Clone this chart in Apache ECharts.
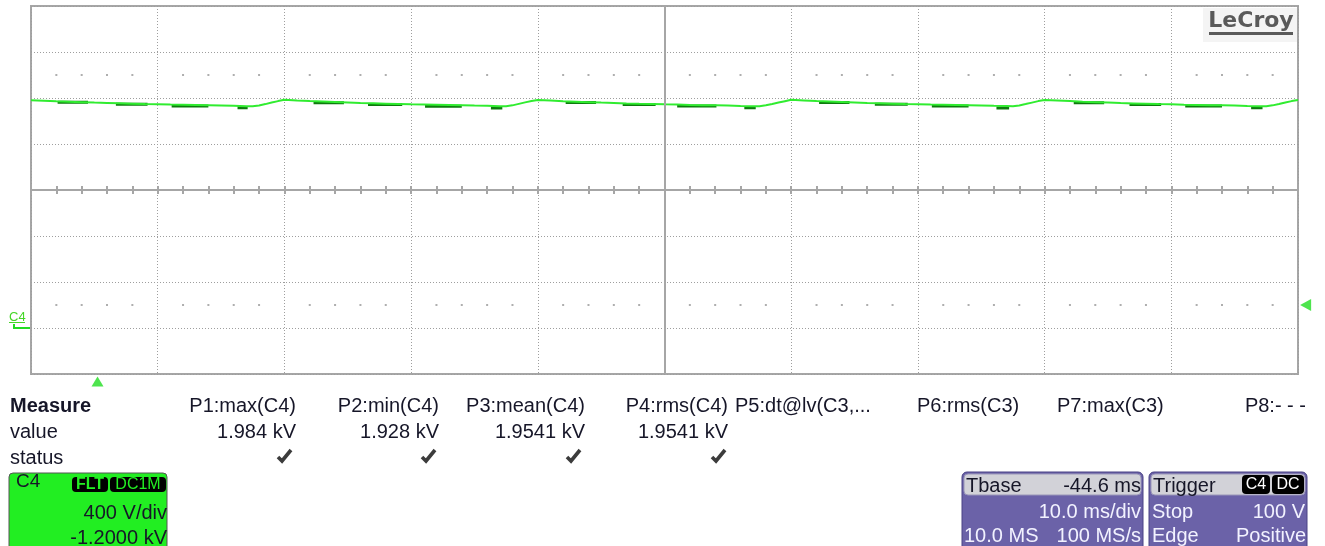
<!DOCTYPE html>
<html><head><meta charset="utf-8">
<script src="https://cdn.jsdelivr.net/npm/echarts@6/dist/echarts.min.js"></script>
<style>html,body{margin:0;padding:0;background:#fff}#c{width:1325px;height:546px}</style>
</head><body><div id="c"></div>
<script>
// ---- data (C4, 400 V/div, 10 ms/div) ----
const timeMs = [
  0,1,2,3,4,5,6,7,8,9,10,11,12,13,14,15,16,17,17.5,18,18.5,19,19.5,
  20,21,22,23,24,25,26,27,28,29,30,31,32,33,34,35,36,37,37.5,38,38.5,39,39.5,
  40,41,42,43,44,45,46,47,48,49,50,51,52,53,54,55,56,57,57.5,58,58.5,59,59.5,
  60,61,62,63,64,65,66,67,68,69,70,71,72,73,74,75,76,77,77.5,78,78.5,79,79.5,
  80,81,82,83,84,85,86,87,88,89,90,91,92,93,94,95,96,97,97.5,98,98.5,99,99.5,
  100
];
const voltsC4 = [
  1980,1977,1972,1968,1964,1960,1957,1954,1951,1948,1946,1943,1941,1939,1937,1935,1932,1929,1928,1935,1947,1961,1973,
  1984,1978,1973,1969,1965,1961,1957,1954,1951,1948,1945,1943,1941,1939,1937,1934,1932,1929,1928,1936,1949,1962,1974,
  1983,1978,1972,1968,1964,1960,1957,1953,1950,1948,1945,1943,1940,1938,1936,1934,1931,1929,1929,1937,1948,1960,1972,
  1984,1979,1973,1969,1965,1961,1957,1954,1951,1948,1946,1943,1941,1939,1937,1935,1932,1930,1928,1935,1947,1960,1973,
  1983,1978,1973,1968,1964,1960,1956,1953,1950,1947,1945,1942,1940,1938,1936,1934,1931,1929,1928,1936,1948,1961,1973,
  1982
];
// darker persistence segments of the trace
const darkStartMs = [2.1,6.7,11.1,16.3, 22.3,26.6,31.1,36.3, 42.2,46.7,51.0,56.3, 62.2,66.6,71.1,76.2, 82.3,86.7,91.1,96.3];
const darkEndMs   = [4.5,9.2,14.0,17.1, 24.7,29.3,34.0,37.2, 44.6,49.3,54.1,57.2, 64.6,69.2,74.0,77.2, 84.7,89.2,94.0,97.2];
const darkVolts   = [1962,1945,1931,1915, 1958,1943,1929,1914, 1961,1944,1930,1915, 1960,1945,1931,1914, 1959,1944,1930,1915];

// graticule
const xMin = 0, xMax = 100, xStep = 10;      // ms
const yMin = -400, yMax = 2800, yStep = 400; // V
const centerTime = 50;
const dotRowVolts = [2200, 200];
const trigTimeMs = 5.25;
const trigLevelV = 200;

// measurement table
const measHeaders = ['P1:max(C4)','P2:min(C4)','P3:mean(C4)','P4:rms(C4)','P5:dt@lv(C3,...','P6:rms(C3)','P7:max(C3)','P8:- - -'];
const measValues  = ['1.984 kV','1.928 kV','1.9541 kV','1.9541 kV','','','',''];
const measStatus  = [true,true,true,true,false,false,false,false];

const trace = timeMs.map((t,i)=>[t, voltsC4[i]]);
const dark = [];
darkStartMs.forEach((s,i)=>{ dark.push([s,darkVolts[i]]); dark.push([darkEndMs[i],darkVolts[i]]); dark.push([darkEndMs[i],'-']); });
const dots = [];
dotRowVolts.forEach(v=>{ for(let t=xMin+2;t<xMax;t+=2){ if(t%10!==0) dots.push([t,v]); } });

const F = '"Liberation Sans", Arial, sans-serif';
const TXT = '#161628';
function txt(x,y,s,opt){
  opt = opt||{};
  return {type:'text', x:x, y:y, z:10, silent:true, style:{text:s, fill:opt.fill||TXT, font:(opt.weight||'normal')+' '+(opt.size||20)+'px '+(opt.family||F), textAlign:opt.align||'left', textVerticalAlign:'middle', verticalAlign:'middle'}};
}
function rect(x,y,w,h,fill,opt){
  opt=opt||{};
  return {type:'rect', z:9, silent:true, shape:{x:x,y:y,width:w,height:h,r:opt.r||0}, style:{fill:fill, stroke:opt.stroke||null, lineWidth:opt.lw||0}};
}
function check(cx,cy){
  return {type:'polyline', z:10, silent:true, shape:{points:[[cx-6,cy+1],[cx-2,cy+5],[cx+7,cy-6]]},
    style:{stroke:'#3c3c3c', lineWidth:3.6, fill:null, lineJoin:'miter', lineCap:'butt'}};
}

const measRight = [296,439,585,728,null,null,null,1306];
const measLeft  = [null,null,null,null,735,917,1057,null];
const checkX = [284,428,573,718];

const g = [];
// measure table
g.push(txt(10,406,'Measure',{weight:'bold'}));
g.push(txt(10,432,'value'));
g.push(txt(10,458,'status'));
measHeaders.forEach((h,i)=>{
  if(measRight[i]!==null) g.push(txt(measRight[i],406,h,{align:'right'}));
  else g.push(txt(measLeft[i],406,h));
  if(measValues[i]) g.push(txt(measRight[i],432,measValues[i],{align:'right'}));
  if(measStatus[i]) g.push(check(checkX[i],456));
});
// C4 channel box
g.push(rect(9,473,158,80,'#22ee22',{r:4,stroke:'#555',lw:1}));
g.push(txt(16,482,'C4',{size:19}));
g.push(rect(72,477,36,15,'#000',{r:4}));
g.push(rect(110,477,56,15,'#000',{r:4}));
g.push(txt(90,485,'FLT',{size:16,weight:'bold',fill:'#22ee22',align:'center'}));
g.push(txt(138,485,'DC1M',{size:16,fill:'#22ee22',align:'center'}));
g.push(txt(167,513,'400 V/div',{align:'right'}));
g.push(txt(167,538,'-1.2000 kV',{align:'right'}));
// Tbase box
g.push(rect(962,472,181,80,'#6b62a8',{r:5,stroke:'#4a4384',lw:1}));
g.push(rect(964,474,177,21,'#d2d2d8',{r:4,stroke:'#9a96b8',lw:1}));
g.push(txt(966,486,'Tbase'));
g.push(txt(1141,486,'-44.6 ms',{align:'right'}));
g.push(txt(1141,512,'10.0 ms/div',{align:'right',fill:'#f2f2ff'}));
g.push(txt(964,536,'10.0 MS',{fill:'#f2f2ff'}));
g.push(txt(1141,536,'100 MS/s',{align:'right',fill:'#f2f2ff'}));
// Trigger box
g.push(rect(1149,472,158,80,'#6b62a8',{r:5,stroke:'#4a4384',lw:1}));
g.push(rect(1151,474,154,21,'#d2d2d8',{r:4,stroke:'#9a96b8',lw:1}));
g.push(txt(1153,486,'Trigger'));
g.push(rect(1242,475,28,19,'#000',{r:4}));
g.push(rect(1272,475,32,19,'#000',{r:4}));
g.push(txt(1256,485,'C4',{size:16,fill:'#fff',align:'center'}));
g.push(txt(1288,485,'DC',{size:16,fill:'#fff',align:'center'}));
g.push(txt(1152,512,'Stop',{fill:'#f2f2ff'}));
g.push(txt(1305,512,'100 V',{align:'right',fill:'#f2f2ff'}));
g.push(txt(1152,536,'Edge',{fill:'#f2f2ff'}));
g.push(txt(1306,536,'Positive',{align:'right',fill:'#f2f2ff'}));
// LeCroy logo
g.push(rect(1203,8,94,34,'#f4f4f4'));
g.push(txt(1251,21,'LeCroy',{size:22,weight:'bold',fill:'#5a5a5a',align:'center',family:'"DejaVu Sans", sans-serif'}));
g.push(rect(1209,32,84,3,'#5a5a5a'));
// C4 ground marker
g.push(txt(9,317,'C4',{size:13,fill:'#44d626'}));
g.push(rect(9,322,16,1,'#44d626'));
g.push(rect(13,327,17,2,'#22dd22'));
g.push(rect(13,324,2,5,'#22dd22'));

const gridLine = {color:'#9e9e9e', type:[1,2], width:1};
const center = {color:'#a6a6a6', width:2};

const option = {
  animation:false,
  backgroundColor:'#fff',
  grid:{left:31, top:6, width:1267, height:368, show:true, borderColor:'#a6a6a6', borderWidth:2, backgroundColor:'transparent'},
  xAxis:[
    {type:'value', min:xMin, max:xMax, interval:xStep, axisLine:{show:false}, axisTick:{show:false}, axisLabel:{show:false}, splitLine:{show:true, lineStyle:gridLine}},
    {type:'value', min:xMin, max:xMax, interval:xStep, position:'bottom', z:3,
      axisLine:{show:true, onZero:true, onZeroAxisIndex:1, lineStyle:center},
      axisTick:{show:true, inside:true, length:4, lineStyle:center},
      minorTick:{show:true, splitNumber:5, length:4, lineStyle:center},
      axisLabel:{show:false}, splitLine:{show:false}},
    {type:'value', min:xMin, max:xMax, interval:xStep, position:'top', z:3,
      axisLine:{show:true, onZero:true, onZeroAxisIndex:1, lineStyle:center},
      axisTick:{show:true, inside:true, length:4, lineStyle:center},
      minorTick:{show:true, splitNumber:5, length:4, lineStyle:center},
      axisLabel:{show:false}, splitLine:{show:false}}
  ],
  yAxis:[
    {type:'value', min:yMin, max:yMax, interval:yStep, axisLine:{show:false}, axisTick:{show:false}, axisLabel:{show:false}, splitLine:{show:true, lineStyle:gridLine}},
    {type:'value', min:-4, max:4, interval:1, position:'right', axisLine:{show:false}, axisTick:{show:false}, axisLabel:{show:false}, splitLine:{show:false}}
  ],
  graphic:{elements:g},
  series:[
    {type:'scatter', name:'graticule', z:1, silent:true, data:dots, symbol:'rect', symbolSize:2, itemStyle:{color:'#9a9a9a'},
      markLine:{silent:true, symbol:'none', label:{show:false}, lineStyle:{color:'#a6a6a6', width:2, type:'solid'}, data:[{xAxis:centerTime}]}},
    {type:'line', name:'C4 persist', z:2, data:dark, showSymbol:false, symbol:'none', connectNulls:false, lineStyle:{color:'#0e7a0e', width:3}},
    {type:'line', name:'C4', z:3, data:trace, showSymbol:false, symbol:'none', lineStyle:{color:'#30ec30', width:2}},
    {type:'scatter', name:'markers', z:4, clip:false, silent:true, symbol:'triangle',
      data:[{value:[trigTimeMs,-465], symbolSize:[12,10]}, {value:[100.6,trigLevelV], symbolSize:[12,11], symbolRotate:90}],
      itemStyle:{color:'#22dd22'}}
  ]
};
const chart = echarts.init(document.getElementById('c'), null, {renderer:'canvas'});
chart.setOption(option);
</script></body></html>
